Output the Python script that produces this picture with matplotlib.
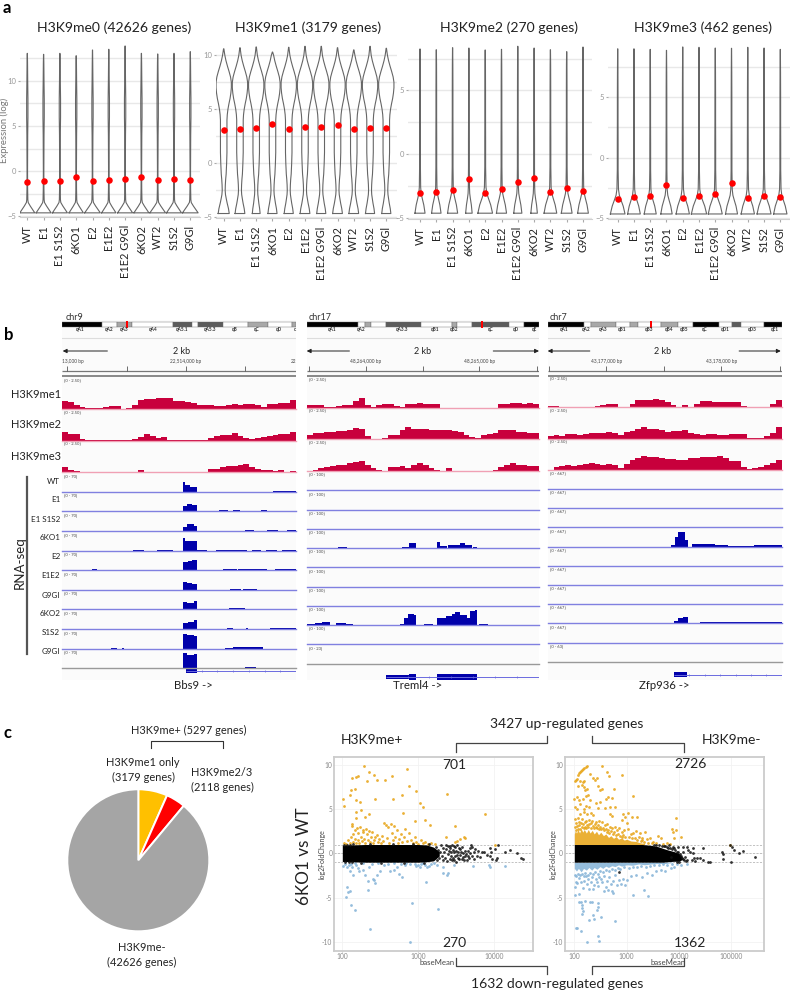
import matplotlib
matplotlib.use("Agg")
import matplotlib.pyplot as plt

plt.rcParams['font.family'] = ['Lato', 'DejaVu Sans']

W, H = 790, 992
SAMPLES = ['WT', 'E1', 'E1 S1S2', '6KO1', 'E2', 'E1E2', 'E1E2 G9Gl', '6KO2', 'WT2', 'S1S2', 'G9Gl']
TITLES = ['H3K9me0 (42626 genes)', 'H3K9me1 (3179 genes)', 'H3K9me2 (270 genes)', 'H3K9me3 (462 genes)']

# panel a: means (red dots), violin tops, half width of the violin foot
ME0_MEAN = [-1.19, -1.11, -1.07, -0.63, -1.11, -0.96, -0.89, -0.63, -1.04, -0.93, -1.0]
ME1_MEAN = [3.06, 3.15, 3.27, 3.61, 3.18, 3.4, 3.4, 3.55, 3.18, 3.3, 3.27]
ME2_MEAN = [-3.09, -3.01, -2.85, -1.99, -3.09, -2.75, -2.2, -1.88, -3.01, -2.7, -2.9]
ME3_MEAN = [-3.42, -3.28, -3.2, -2.23, -3.33, -3.14, -2.98, -2.12, -3.33, -3.2, -3.25]
ME0_TOP = [13.07, 12.96, 13.07, 12.81, 13.44, 13.52, 13.89, 13.07, 13.0, 13.07, 13.26]
ME1_TOP = [10.6, 10.7, 10.77, 10.3, 10.74, 10.83, 10.83, 10.7, 10.5, 10.83, 10.65]
ME2_TOP = [8.25, 8.19, 8.35, 8.32, 8.17, 8.22, 8.46, 8.32, 8.19, 8.04, 8.4]
ME3_TOP = [9.0, 9.0, 8.95, 8.87, 9.15, 9.12, 9.06, 9.04, 9.12, 9.06, 8.95]
ME0_FOOT = [.46, .46, .46, .44, .48, .44, .46, .46, .48, .46, .48]
ME1_FOOT = [.30, .26, .20, .24, .24, .26, .24, .26, .26, .24, .24]
ME2_FOOT = [.31, .29, .31, .20, .45, .31, .25, .20, .39, .33, .33]
ME3_FOOT = [.45, .39, .37, .35, .41, .47, .43, .37, .41, .43, .41]

# violin outline: y levels, foot taper, body half width
ME0_Y = [-4.65, -4.3, -3.9, -3.5, -3.2, -2, 0, 2, 4, 6, 8, 10, 12, 13]
ME0_TAPER = [1, .72, .4, .12, .03, 0, 0, 0, 0, 0, 0, 0, 0, 0]
ME0_BODY = [0, 0, 0, 0, .02, .02, .015, .02, .025, .04, .04, .025, .015, .005]
ME1_Y = [-4.65, -4.2, -3.7, -3.3, -2.9, -2.5, -2, -1.5, -1, 0, 1, 2, 3, 4, 4.5, 5, 5.5, 6, 6.5, 7, 7.5, 8, 8.5, 9, 9.5, 10, 10.6]
ME1_TAPER = [1, .85, .55, .3, .1, 0, 0, 0, 0, 0, 0, 0, 0, 0, 0, 0, 0, 0, 0, 0, 0, 0, 0, 0, 0, 0, 0]
ME1_BODY = [.04, .04, .05, .07, .08, .09, .1, .12, .15, .18, .2, .2, .2, .2, .22, .26, .32, .39, .44, .47, .47, .42, .33, .23, .14, .07, .01]
ME2_Y = [-4.65, -4, -3.5, -3.1, -2.6, -1, 1, 3, 5, 7, 8.2]
ME2_TAPER = [1, .75, .45, .2, .05, 0, 0, 0, 0, 0, 0]
ME2_BODY = [0, 0, 0, .01, .025, .025, .025, .02, .02, .015, .005]

# panel b: H3K9me tracks, one value per window bin
BBS9_ME1 = [8, 7, 4, 2, 1, 1, 1, 2, 3, 3.5, .5, 1, 4, 9, 10, 10.5, 11, 11.5, 11, 8.5, 8, 7.5, 6.5, 4, 4, 4, 3.5, 3.5, 4, 5.5, 4.5, 5.5, 5, 4, 2.5, 5.5, 5.5, 6, 6.5, 9]
BBS9_ME2 = [8.5, 7, 6.5, 1.5, 1, .3, .3, .3, 1, .3, .5, .3, 2, 4, 6.5, 5, 3, 3.5, 1, .3, .3, .3, .3, .5, .5, 3, 4.5, 5.5, 6, 7.5, 5, 3, 1.5, 2.5, 3.5, 4.5, 6, 6.5, 6.5, 9]
BBS9_ME3 = [5.5, 2, 1, .3, .3, .3, .3, .3, .3, .3, .3, .3, .3, 2, .3, .3, .3, .3, .3, .3, .3, .3, .3, .3, .3, 3, 3.5, 5, 6.5, 6, 7, 8, 5, 3, 2, 2.5, 1.5, 2, .3, 1.5]
TREML4_ME1 = [3.5, 3.5, 3, 1.5, 1, 2.5, 3, 3, 7.5, 10, 3, 1.5, 3, 4, 4.5, 2.5, 1, 4, 4.5, 5, 4.5, 4.5, 4, .3, .3, .3, .3, .3, .3, .3, .3, .3, .3, 4, 4, 5, 5, 4, 5.5, 4]
TREML4_ME2 = [4, 6, 6.5, 7, 7.5, 8, 8.5, 9, 11, 10.5, 3, .5, .5, 1, 4, 4, 9, 12, 10.5, 10.5, 10, 9, 9, 9, 9, 8, 7, 4, 2, 1.5, 4, 5, 6, 9.5, 9, 9, 7, 7, 6, 6]
TREML4_ME3 = [.5, 1.5, 3, 4, 5, 6, 6.5, 8, 9, 10, 6, 3, 1.5, .5, 4, 4, 5, 3, 6, 8, 6, 3.5, 1, .3, 3, .3, .3, .3, .3, .3, .3, .3, 1, 4, 6, 8, 6, 6, 5, 5]
ZFP936_ME1 = [1.5, 1.5, .5, .3, .3, .3, .3, .3, 1, 2, 3, 3, .3, .3, 3, 7, 7.5, 7.5, 8, 7.5, 5, 2, .3, 2, .5, 3, 6, 6, 5, 5.5, 5.5, 5, 5, 1, .3, .3, .3, .3, 3, 7]
ZFP936_ME2 = [2.5, 3.5, 3, 5, 5, 4, 5, 6, 6, 6, 7, 6, 4, 6.5, 8, 10, 12, 10, 10, 9, 7, 8, 8, 9, 6, 5, 4, 5, 5, 4, 4, 5, 5, 5, .5, .5, .5, 3, 6, 12]
ZFP936_ME3 = [.5, 3, 4, 5.5, 4, 5, 6, 7, 6, 5.5, 6, 5.5, 2.5, 6, 10, 12, 14, 13, 13, 12, 11, 11, 10, 10, 12, 12, 13, 13, 13, 14, 12, 9, 9, 3, 1.5, 2, 3, 5, 7, 10]

# panel b: RNA-seq coverage as (start %, end %, height) intervals
BBS9_RNA = [
    [(51.6, 52.6, 10), (52.6, 54.8, 7.5), (54.8, 57.5, 5.5), (46.6, 48.7, .7), (83, 84, .7), (90, 100, 1)],
    [(51.6, 53.4, 5), (53.4, 55.5, 7), (55.5, 57.5, 6), (67, 71, 1), (73, 76, 1), (85, 87.5, 1)],
    [(51.6, 53.4, 4.5), (53.4, 56.2, 7), (56.2, 57.5, 5.5), (78, 82, 1), (87.5, 92.5, 1), (96, 100, 1)],
    [(51.6, 52.6, 13), (52.6, 54.8, 10), (54.8, 57.5, 10), (30.5, 35, 1), (40.5, 47.5, 1), (57.5, 62, 1), (66, 79, 1.2), (81, 85, 1), (87, 92, .8), (94, 100, 1.2)],
    [(51.6, 54, 8), (54, 55.5, 9), (55.5, 57.5, 10), (13, 15, 1), (69, 75, 1.5), (75, 87.5, 1), (91, 100, 1.5)],
    [(51.6, 53.4, 8), (53.4, 55.5, 7), (55.5, 57.5, 6), (72, 76.5, .8), (77.5, 83.5, .8)],
    [(51.6, 53.4, 7), (53.4, 56.2, 6.5), (56.2, 57.5, 8), (58.5, 60, .7), (71.5, 78, 1.2), (79, 87.5, .7)],
    [(51.6, 54, 6), (54, 56.2, 7.5), (56.2, 57.5, 9), (70.5, 73, 1), (78.5, 79.5, .7), (89, 100, 1)],
    [(51.6, 53.4, 15), (53.4, 56.2, 14), (56.2, 57.5, 13), (21, 23.5, .7), (25.5, 26.5, .7), (69.5, 73, 1), (73, 86, 1.5)],
    [(51.6, 53.4, 15), (53.4, 56.2, 13), (56.2, 57.5, 14), (78, 83, .7)],
]
TREML4_RNA = [[], [], [],
    [(13.6, 17.2, 1.5), (41, 44, 1.5), (44, 47, 5.5), (56, 57.5, 6), (57.5, 60.5, 2), (61, 64.5, 3.5), (64.5, 66, 3), (66, 68, 5), (68, 71, 3), (71.5, 73.5, 1)],
    [], [], [],
    [(0, 3.5, 1), (3.5, 6.5, 2), (6.5, 10, 3), (12.5, 17, 2), (17, 20, 1), (40, 42, 1.5), (42, 43.5, 7), (43.5, 46, 11), (46, 47, 10), (50.5, 54.5, 1), (56, 60, 7.5), (60, 62.5, 9), (62.5, 64, 11), (64, 66, 13), (66, 69, 10), (69, 70.5, 7), (70.5, 72.5, 14), (72.5, 73.5, 15), (74, 78, 1.5)],
    [], [],
]
ZFP936_RNA = [[], [], [],
    [(52.7, 54.4, 2), (54.4, 55.8, 10), (55.8, 58.7, 15), (58.7, 59.8, 7), (61.5, 71.5, 3), (71.5, 77, 1.5), (77, 88, 1), (88, 100, 2)],
    [], [],
    [(97.5, 100, .7)],
    [(54, 55.8, 2), (55.8, 58, 5), (58, 60, 6.5), (65, 69.5, 1.5), (69.5, 76.5, 1), (76.5, 100, 1)],
    [], [],
]
RNA_LABELS = ['WT', 'E1', 'E1 S1S2', '6KO1', 'E2', 'E1E2', 'G9Gl', '6KO2', 'S1S2', 'G9Gl']

# ideogram bands (end %, shade) and band names
BBS9_BANDS = [(17.2, 'k'), (23.6, 'w'), (29.8, 'g'), (47.6, 'w'), (55.7, 'd'), (58.1, 'w'), (69, 'd'), (79.6, 'w'), (87.9, 'g'), (98.1, 'w'), (100, 'g')]
TREML4_BANDS = [(22, 'k'), (25.1, 'w'), (27.5, 'g'), (34, 'w'), (49.1, 'd'), (62.6, 'w'), (64.7, 'g'), (71.3, 'w'), (87.1, 'd'), (93.6, 'w'), (100, 'k')]
ZFP936_BANDS = [(15.5, 'k'), (18.4, 'w'), (29, 'g'), (35.2, 'w'), (38.4, 'g'), (48.5, 'w'), (55.5, 'g'), (62, 'w'), (73.2, 'k'), (78.7, 'w'), (82.6, 'd'), (92.5, 'w'), (100, 'k')]
BBS9_NAMES = [(7.6, 'qA1'), (20.2, 'qA2'), (26.6, 'qA3'), (38.8, 'qA4'), (51.3, 'qA5.1'), (63.5, 'qA5.3'), (74, 'qB'), (83, 'qC'), (92.6, 'qD'), (99.6, 'c')]
TREML4_NAMES = [(10.8, 'qA1'), (23.4, 'qA2'), (41.2, 'qA3.3'), (55.2, 'qB1'), (63.3, 'qB2'), (79, 'qC'), (90, 'qD'), (98, 'qE')]
ZFP936_NAMES = [(7.1, 'qA1'), (16.6, 'qA2'), (23.5, 'qA3'), (31.6, 'qB1'), (43.2, 'qB3'), (51.7, 'qB4'), (58.5, 'qB5'), (67.1, 'qC'), (75.7, 'qD1'), (87.3, 'qD3'), (97, 'qE1')]

# panel c: pie
PIE_VALUES = [3179, 2118, 42626]
PIE_COLORS = ['#ffc000', '#ff0000', '#a5a5a5']

# panel c: MA plot H3K9me+ (baseMean, log2FoldChange)
PLUS_UP = [(193, 9.9), (222, 9.2), (259, 8.9), (214, 8.2), (284, 8.3), (133, 8.5), (150, 8.6), (161, 8.75), (365, 8.35), (451, 8.7), (717, 9.6), (765, 7.6), (945, 7.1), (131, 7.2), (148, 7.3), (126, 6.6), (102, 6.1), (105, 5.4), (152, 6.0), (171, 5.8), (270, 6.1), (470, 6.2), (606, 6.6), (1060, 5.7), (1170, 5.2), (2420, 6.7), (640, 4.6), (7650, 4.4), (150, 4.7), (177, 4.95), (224, 4.5), (199, 4.1), (150, 4.05), (910, 3.7), (1230, 3.8), (1430, 3.2), (3100, 3.05), (133, 3.3),
           (105, 1.2), (112, 1.1), (118, 1.5), (125, 1.2), (130, 1.8), (136, 3.1), (138, 2.2), (140, 1.3), (145, 2.6), (148, 1.6), (150, 1.2), (155, 2.9), (160, 2.3), (163, 1.5), (168, 1.2), (172, 3.0), (175, 1.9), (180, 1.4), (185, 2.6), (190, 2.4), (195, 1.6), (200, 1.2), (205, 2.8), (212, 2.2), (220, 1.5), (228, 2.5), (235, 1.3), (240, 1.9), (248, 2.4), (255, 1.2), (262, 1.5), (270, 1.9), (285, 2.1), (295, 1.3), (305, 1.6), (320, 1.2), (330, 2.0), (345, 1.4), (360, 3.4), (375, 3.2), (385, 1.7), (400, 3.0), (415, 1.2), (435, 3.3), (450, 2.3), (465, 1.5), (480, 3.1), (500, 1.9), (520, 2.6), (540, 1.2), (565, 1.6), (590, 2.2), (615, 1.3), (650, 1.9), (680, 2.8), (710, 1.4), (750, 2.3), (800, 1.5), (850, 1.2), (900, 1.8), (950, 1.3), (1000, 1.1), (1080, 1.5), (1150, 1.2), (1250, 1.3), (1350, 1.1), (1500, 1.2), (1650, 1.1), (2300, 1.9), (3050, 1.3), (3300, 1.4), (3600, 1.6), (4000, 1.8), (4200, 1.7), (10200, 1.0)]
PLUS_DOWN = [(103, -1.4), (108, -1.2), (115, -1.6), (122, -1.3), (125, -2.0), (130, -1.2), (135, -1.5), (140, -2.4), (150, -1.3), (160, -1.7), (165, -2.0), (117, -3.8), (120, -4.4), (128, -4.3), (113, -4.95), (131, -5.9), (148, -6.4), (235, -8.6), (790, -10), (830, -5.6), (1830, -6.3), (218, -4.2), (1270, -3.3), (265, -3.0), (290, -2.5), (310, -2.0), (360, -1.3), (420, -2.0), (480, -1.9), (560, -2.3), (270, -3.4), (255, -2.9), (185, -1.9), (200, -2.5), (215, -3.1), (225, -1.5), (400, -1.2), (520, -1.5), (620, -2.7), (680, -1.3), (780, -1.2), (900, -1.2), (1000, -1.3), (1100, -1.2), (1300, -1.5), (1500, -1.2), (1800, -1.3), (2100, -1.5), (2400, -2.4), (2500, -2.2), (2100, -2.2), (3000, -1.3), (5300, -1.4), (8800, -1.5), (8600, -1.3), (14200, -1.4),
             (950, -1.4), (1050, -1.5), (1150, -1.1), (1220, -1.3), (1400, -1.4), (1600, -1.1), (700, -1.1), (600, -1.2), (480, -1.1), (300, -1.1), (250, -1.2), (190, -1.1), (145, -1.1)]
PLUS_NS = [(2000, .9), (2300, 1.0), (2500, .85), (2800, .9), (3100, .7), (3300, .95), (3600, .5), (3900, -.4), (4200, .3), (4400, -.7), (4800, .6), (5000, .9), (5200, .75), (5400, .2), (5600, .5), (5900, -.3), (6200, .3), (6500, -.4), (7000, .1), (7500, .2), (8200, -.2), (8800, .55), (8900, -.3), (9100, .2), (9300, -.6), (10500, .5), (11000, -.5), (10800, -.8), (11500, 1.0), (14000, .2), (16500, .4), (20000, .05), (22500, -.5), (24000, -.65), (2400, -.9), (2800, -.8), (3200, -.95), (3500, -.6), (4000, -.8), (4500, -.3), (3000, .1),
           (1700, .7), (1750, -.8), (1850, .4), (1900, -.55), (1950, .15), (2050, -.3), (2100, .6), (2150, -.75), (2200, .2), (2250, -.5), (2350, .45), (2450, -.1), (2550, .3), (2600, -.6), (2650, .65), (2700, -.25), (2750, .1), (2850, -.5), (2900, .4), (2950, -.7), (3050, -.3), (3150, .3), (3250, -.15), (3350, .15), (3400, -.55), (3450, .55), (3550, -.2), (3700, .2), (3800, -.6), (3950, .05), (4100, -.3), (4300, -.1), (4600, .25), (4700, -.55), (4900, .05), (5100, -.35), (5500, -.6), (3750, .75), (3000, .85), (2600, .8),
           (105, 1.0), (122, -1.0), (140, 1.05), (175, -1.05), (230, 1.05), (320, -1.05), (470, 1.05), (650, -1.08), (850, 1.05), (1200, -1.05), (1400, 1.05), (110, -.98), (115, .98), (128, .97), (135, -1.0)]
PLUS_BAND_X = [100, 130, 200, 500, 1000, 1300, 1600, 1900]
PLUS_BAND_HI = [.92, .95, 1, 1, 1, .95, .7, .2]
PLUS_BAND_LO = [-.92, -.95, -1, -1, -1, -.95, -.85, -.3]

# panel c: MA plot H3K9me-
MINUS_UP = [(103, 8.2), (110, 8.3), (115, 8.4), (120, 8.9), (125, 9.1), (130, 9.2), (135, 9.3), (140, 9.4), (148, 9.5), (155, 9.7), (165, 9.8), (172, 9.9), (200, 9.0), (333, 9.9), (428, 9.2), (455, 8.7), (830, 8.85), (231, 8.5), (250, 8.3), (267, 8.5), (280, 7.6), (309, 7.2), (333, 7.25), (130, 8.2), (145, 8.1), (155, 8.2), (120, 7.6), (150, 7.5), (142, 7.7), (160, 7.2), (172, 7.3), (580, 7.3), (515, 6.3), (445, 6.35), (400, 6.2), (1340, 6.5), (100, 6.1), (115, 6.4), (125, 6.0), (145, 6.2), (165, 6.5), (185, 6.6), (200, 6.0), (310, 5.8), (260, 5.7), (285, 5.1), (600, 5.3), (480, 5.2), (385, 5.1), (190, 5.3), (165, 5.4), (150, 5.0), (130, 5.6), (115, 5.0), (105, 5.3), (1070, 4.6), (1240, 4.15), (860, 4.5), (925, 4.1), (800, 3.8), (517, 4.2), (480, 4.5), (8600, 4.05), (1560, 4.1), (1000, 3.4), (210, 4.6), (230, 4.3), (175, 4.5), (150, 4.7), (130, 4.4), (118, 4.0), (105, 3.9), (8800, 2.6), (7800, 2.4), (7200, 2.8), (4000, 2.0), (4500, 1.7), (8000, 1.75), (10900, 1.9), (2250, 2.4), (1790, 2.3), (1950, 1.7), (2800, 1.7), (94000, 1.0),
            (110, 3.4), (125, 3.6), (140, 3.9), (165, 3.7), (190, 3.8), (220, 3.7), (260, 3.6), (300, 3.7), (340, 3.5), (380, 3.2), (430, 3.3), (480, 3.0), (520, 2.9), (590, 3.0), (650, 2.6), (720, 2.9), (800, 2.4), (900, 2.6), (1050, 2.8), (1200, 2.2), (1350, 2.3), (1500, 2.5), (1700, 1.8), (2000, 1.5), (2400, 1.6), (3200, 1.3), (3600, 1.2), (5000, 1.1), (5800, 1.2), (6800, 1.1),
            (102, 3.0), (106, 2.6), (112, 3.1), (118, 2.7), (122, 3.2), (128, 2.8), (133, 3.4), (138, 3.0), (145, 3.3), (150, 2.9), (158, 3.5), (162, 3.0), (170, 2.9), (178, 3.2), (185, 3.0), (195, 3.3), (205, 2.9), (212, 3.4), (225, 3.1), (235, 2.9), (245, 3.3), (255, 3.0), (270, 2.9), (280, 3.2), (295, 2.8), (315, 3.0), (330, 2.7), (350, 2.9), (365, 2.6), (395, 2.7), (415, 2.4), (445, 2.6), (465, 2.3), (500, 2.5), (540, 2.2), (570, 2.4), (620, 2.1), (680, 2.2), (750, 2.0), (820, 1.9), (870, 2.1), (950, 1.8), (1100, 1.9), (1250, 1.7), (1450, 1.7), (1600, 1.5), (1850, 1.4), (2100, 1.25), (2600, 1.2), (3000, 1.15)]
MINUS_DOWN = [(103, -4.75), (110, -3.2), (125, -4.6), (132, -5.55), (125, -5.55), (143, -5.85), (138, -6.2), (148, -6.5), (143, -6.85), (193, -7.5), (224, -7.0), (237, -7.4), (318, -7.15), (606, -7.7), (106, -8.4), (113, -8.5), (132, -8.75), (288, -9.3), (172, -10), (296, -9.9), (220, -5.5), (200, -5.5), (160, -5.4), (288, -5.65), (288, -6.05), (267, -6.4), (368, -4.3), (445, -4.2), (515, -4.3), (556, -4.5), (1340, -4.75), (2100, -4.15), (2600, -4.8),
              (105, -3.8), (115, -3.4), (125, -2.8), (135, -3.3), (145, -3.9), (155, -3.1), (165, -2.6), (175, -3.5), (185, -2.9), (195, -4.0), (205, -3.3), (215, -2.7), (228, -4.0), (240, -3.6), (255, -2.9), (270, -3.2), (285, -3.7), (300, -2.7), (320, -2.9), (345, -3.2), (370, -2.6), (400, -3.8), (430, -3.1), (470, -2.7), (510, -3.5), (540, -3.1), (600, -2.5), (650, -3.6), (700, -3.0), (780, -3.5), (860, -2.9), (950, -3.6), (1030, -3.0), (1200, -2.6), (1500, -2.4), (2000, -2.7), (2500, -2.2), (3100, -2.5), (3700, -2.0), (4500, -1.9), (5500, -2.0), (7000, -1.7), (8000, -1.6), (11000, -1.3), (14000, -1.2),
              (102, -2.4), (108, -2.6), (118, -2.3), (130, -2.5), (140, -2.3), (150, -2.6), (160, -2.2), (180, -2.4), (200, -2.2), (225, -2.3), (250, -2.1), (280, -2.3), (310, -2.0), (350, -2.1), (400, -1.9), (460, -2.0), (520, -1.8), (590, -1.9), (670, -1.7), (760, -1.8), (900, -1.6), (1100, -1.7), (1300, -1.5), (1600, -1.6), (1900, -1.4), (2300, -1.5), (2800, -1.4), (3400, -1.3), (4200, -1.3), (5000, -1.25), (6000, -1.3), (7500, -1.2), (9000, -1.15)]
MINUS_NS = [(720, -2.15), (7800, .7), (9700, .75), (8000, .55), (18300, .65), (28300, .65), (18800, 0), (15000, .4), (19000, -.55), (21700, -.5), (25000, -.55), (29000, -.8), (18000, -.8), (20100, -.9), (36000, -1), (39000, -1), (66000, .2), (68000, -.1), (68000, -.65), (98000, -1), (94000, .95), (104000, .7), (114000, .4), (143000, 0), (166000, .25), (285000, -.4), (12000, .2), (13000, -.4), (11300, -.55), (14000, .75), (16000, .2), (12000, .75), (6500, .9), (5500, .85), (7000, -.4),
            (3300, 1.0), (3700, .95), (4200, .9), (4700, .85), (5200, .8), (5800, .75), (6300, .65), (6800, .55), (7300, .45), (8500, .35), (9000, .2), (9500, .1), (10500, -.1), (11000, -.3), (11800, -.6), (12500, -.75), (13500, -.9), (14500, -.7), (10000, -.95), (9000, -1.0)]
MINUS_BAND_X = [100, 150, 300, 1000, 2000, 3000, 4000, 5000, 6000, 8000, 10000, 11500]
MINUS_BAND_HI = [1, 1, 1, 1, 1, .9, .75, .55, .4, .2, 0, -.4]
MINUS_BAND_LO = [-1, -1, -1, -1, -1, -1, -1, -1, -.95, -.9, -.9, -.7]
MINUS_UP_X = [100, 105, 110, 118, 126, 135, 145, 155, 170, 185, 200, 220, 240, 265, 290, 320, 360, 400, 450, 500, 560, 630, 700, 800, 900, 1000, 1200, 1500, 1800, 2200]
MINUS_UP_HI = [2.2, 2.6, 2.3, 2.7, 2.3, 2.8, 2.4, 2.7, 2.3, 2.7, 2.3, 2.6, 2.2, 2.5, 2.1, 2.4, 2.0, 2.2, 1.8, 2.0, 1.7, 1.9, 1.6, 1.75, 1.5, 1.6, 1.4, 1.35, 1.2, 1.1]
MINUS_DN_X = [100, 110, 120, 135, 150, 170, 190, 215, 240, 270, 310, 350, 400, 450, 520, 600, 700, 800, 1000, 1300, 1700, 2200, 3000, 4000, 5500, 7500]
MINUS_DN_LO = [-1.7, -2.0, -1.7, -2.1, -1.7, -1.9, -1.6, -1.9, -1.6, -1.8, -1.5, -1.7, -1.45, -1.6, -1.4, -1.5, -1.3, -1.45, -1.3, -1.35, -1.2, -1.3, -1.2, -1.15, -1.15, -1.05]

fig = plt.figure(figsize=(W / 100, H / 100), dpi=100)


def px_axes(x0, y0, x1, y1, **kw):
    # axes placed in image pixels, y counted from the top
    return fig.add_axes([x0 / W, 1 - y1 / H, (x1 - x0) / W, (y1 - y0) / H], **kw)


# overlay for free text and brackets
ov = px_axes(0, 0, W, H, zorder=20)
ov.set_xlim(0, W)
ov.set_ylim(H, 0)
ov.axis('off')


def label(x, y, s, size=10, ha='center', **kw):
    ov.text(x, y, s, fontsize=size, ha=ha, va='center', color=kw.pop('color', '#222222'), **kw)


label(7, 8, 'a', 12, fontweight='bold', color='black')
label(9, 335, 'b', 12, fontweight='bold', color='black')
label(8, 733, 'c', 12, fontweight='bold', color='black')

# ---- a: violins
panels = [
    (20, 200, 27.3, 16.3, 45, 216.7, 9.0, ME0_MEAN, ME0_TOP, ME0_FOOT, ME0_Y, ME0_TAPER, ME0_BODY, [-5, 0, 5, 10], [-2.5, 2.5, 7.5, 12.5], 114, 28),
    (216, 397, 223.7, 16.26, 45, 218, 10.8, ME1_MEAN, ME1_TOP, ME1_FOOT, ME1_Y, ME1_TAPER, ME1_BODY, [-5, 0, 5, 10], [-2.5, 2.5, 7.5], 308, 28),
    (408, 592, 420, 16.3, 45, 218.5, 12.73, ME2_MEAN, ME2_TOP, ME2_FOOT, ME2_Y, ME2_TAPER, ME2_BODY, [-5, 0, 5], [-2.5, 2.5, 7.5], 509, 28),
    (608, 790, 617.7, 16.26, 45, 218.5, 12.1, ME3_MEAN, ME3_TOP, ME3_FOOT, ME2_Y, ME2_TAPER, ME2_BODY, [-5, 0, 5], [-2.5, 2.5, 7.5], 703, 28),
]
zero_px = [171, 163.3, 154, 157.7]
for i, p in enumerate(panels):
    x0, x1, first, step, top, bot, unit, mean, tops, foot, ys, taper, body, ticks, minor, tx, ty = p
    ax = px_axes(x0, top, x1, bot, facecolor='none')
    ax.set_xlim((x0 - first) / step, (x1 - first) / step)
    for j in range(11):
        hw = [t * foot[j] + b for t, b in zip(taper, body)]
        yy = ys[:-1] + [tops[j]]
        xs = [j - h for h in hw] + [j + h for h in hw[::-1]] + [j - hw[0]]
        ax.plot(xs, yy + yy[::-1] + [yy[0]], color='#555555', lw=0.8, alpha=0.9, zorder=2)
    ax.scatter(range(11), mean, s=22, color='#ff0000', zorder=3, linewidths=0)
    ax.set_yticks(ticks)
    ax.set_yticks(minor, minor=True)
    ax.set_ylim((zero_px[i] - bot) / unit, (zero_px[i] - top) / unit)
    ax.grid(True, which='both', axis='y', color='#e8e8e8', lw=1, zorder=0)
    ax.set_xticks(range(11))
    ax.set_xticklabels(SAMPLES, rotation=90, fontsize=7.9, color='#222222')
    ax.tick_params(axis='x', length=2, color='#aaaaaa', pad=4)
    ax.tick_params(axis='y', which='major', length=1.5, color='#aaaaaa', labelsize=5.5, labelcolor='#999999', pad=1)
    ax.tick_params(axis='y', which='minor', length=0)
    for s in ['top', 'left', 'right']:
        ax.spines[s].set_visible(False)
    ax.spines['bottom'].set_color('#d0d0d0')
    label(tx, ty, TITLES[i], 10.1)
label(4, 130, 'Expression (log)', 6.8, rotation=90, color='#777777')

# ---- b: IGV browser panels
SHADES = {'k': 'black', 'w': 'white', 'g': '#a8a8a8', 'd': '#5c5c5c'}
columns = [
    dict(x0=62, x1=296, chrom='chr9', bands=BBS9_BANDS, names=BBS9_NAMES, red=27.6, rng='[0 - 70]', last='[0 - 70]',
         me=[BBS9_ME1, BBS9_ME2, BBS9_ME3], me_base=[409, 440.7, 472.3], rna=BBS9_RNA,
         rna_base=[492.3, 511.3, 531, 550.7, 570, 590, 609.3, 629, 648.7, 667.7],
         ticks=[2.3, 27.6, 52.8, 78], tlab=[(0, '13,000 bp'), (52.8, '22,514,000 bp'), (99, '22')], mid=50.9,
         arrows=(0.3, 19.4, 83.3, 100.8), gene='Bbs9 ->', gx=193, gene_y=671, exon_h=4, exons=[(53, 57.5, 1)], gstart=53),
    dict(x0=306.7, x1=539, chrom='chr17', bands=TREML4_BANDS, names=TREML4_NAMES, red=75.3, rng='[0 - 100]', last='[0 - 23]',
         me=[TREML4_ME1, TREML4_ME2, TREML4_ME3], me_base=[408.3, 439.3, 471], rna=TREML4_RNA,
         rna_base=[490.3, 509.7, 529, 548.3, 567.3, 586.7, 606, 625.3, 644.3, 663.7],
         ticks=[1.1, 25.7, 50.1, 74.3, 99], tlab=[(25.4, '48,264,000 bp'), (74.2, '48,265,000 bp')], mid=49.8,
         arrows=(0, 18.4, 80.3, 100), gene='Treml4 ->', gx=418, gene_y=677, exon_h=6, exons=[(34.1, 44.2, .6), (44.2, 47, 1), (56.2, 73.2, 1)], gstart=34),
    dict(x0=547.7, x1=781.7, chrom='chr7', bands=ZFP936_BANDS, names=ZFP936_NAMES, red=44.2, rng='[0 - 667]', last='[0 - 63]',
         me=[ZFP936_ME1, ZFP936_ME2, ZFP936_ME3], me_base=[407.3, 438.7, 470], rna=ZFP936_RNA,
         rna_base=[489.3, 508.3, 527.3, 546.7, 566, 585, 604.3, 623.3, 642.7, 662],
         ticks=[.4, 25.1, 49.6, 74.2, 99.1], tlab=[(25, '43,177,000 bp'), (74.2, '43,178,000 bp')], mid=49,
         arrows=(0, 18, 81.8, 99.6), gene='Zfp936 ->', gx=664, gene_y=675, exon_h=5, exons=[(54, 59.4, 1)], gstart=54),
]
for c in columns:
    base = px_axes(c['x0'], 320, c['x1'], 680, facecolor='#fbfbfb')
    base.set_xlim(0, 100)
    base.set_ylim(680, 320)
    for s in base.spines.values():
        s.set_visible(False)
    base.set_xticks([])
    base.set_yticks([])
    # ideogram
    start = 0
    for end, shade in c['bands']:
        base.barh(324.5, end - start, left=start, height=5.2, color=SHADES[shade], edgecolor='#666666', lw=0.3)
        start = end
    base.barh(324.5, 0.9, left=c['red'] - 0.45, height=6.5, color='#ff0000')
    for pos, name in c['names']:
        base.text(pos, 329.5, name, fontsize=3.4, ha='center', va='center', fontweight='bold', color='#333333')
    base.axhline(338, color='#dddddd', lw=0.8)
    # ruler
    a, b, d, e = c['arrows']
    for start_x, end_x in [(b, a), (d, e)]:
        base.annotate('', xy=(end_x, 351), xytext=(start_x, 351),
                      arrowprops=dict(arrowstyle='-|>', color='#222222', lw=0.7, shrinkA=0, shrinkB=0, mutation_scale=6))
    base.text(c['mid'], 351.5, '2 kb', fontsize=6.5, ha='center', va='center', color='#222222')
    for pos, s in c['tlab']:
        base.text(pos, 361.7, s, fontsize=3.4, ha='left' if pos == 0 else 'center', va='center', color='#444444')
    base.hlines(370.7, 0, 100, color='#777777', lw=0.9)
    base.vlines(c['ticks'], 366, 370.7, color='#555555', lw=0.6)
    base.hlines(376.3, 0, 100, color='#888888', lw=1.4)
    # me tracks
    for vals, bl in zip(c['me'], c['me_base']):
        ax = px_axes(c['x0'], bl - 20, c['x1'], bl, facecolor='none', zorder=3)
        ax.set_xlim(0, 40)
        ax.set_ylim(0, 20)
        ax.bar(range(40), vals, width=1, align='edge', color='#c8003c', linewidth=0)
        ax.axhline(0, color='#f0a0b4', lw=1, clip_on=False)
        ax.axis('off')
        base.text(1, bl - 28.5, '[0 - 2.50]', fontsize=3, va='center', color='#444444')
    # RNA tracks
    for k, (segs, bl) in enumerate(zip(c['rna'], c['rna_base'])):
        ax = px_axes(c['x0'], bl - 16, c['x1'], bl, facecolor='none', zorder=3)
        ax.set_xlim(0, 100)
        ax.set_ylim(0, 16)
        for s0, s1, h in segs:
            ax.bar(s0, h, width=s1 - s0, align='edge', color='#0000aa', linewidth=0)
        ax.axhline(0, color='#999999' if k == 9 else '#8080e0', lw=1, clip_on=False)
        ax.axis('off')
        base.text(1, bl - 15.5, c['last'] if k == 9 else c['rng'], fontsize=3, va='center', color='#444444')
    # gene track
    base.hlines(c['gene_y'], c['gstart'], 100, color='#6a6adf', lw=0.7)
    for s0, s1, frac in c['exons']:
        base.barh(c['gene_y'], s1 - s0, left=s0, height=c['exon_h'] * frac, color='#0000aa')
    base.scatter([c['gstart'] + (100 - c['gstart']) * n / 7 for n in range(1, 7)], [c['gene_y']] * 6,
                 marker='|', s=4, color='#6a6adf', linewidths=0.5)
    label(c['gx'], 685.7, c['gene'], 8.2)
    ov.text((c['x0'] + 4) if c['chrom'] == 'chr9' else (c['x0'] + 2), 317, c['chrom'], fontsize=6.5, va='center', color='#333333')

for y, s in [(394.7, 'H3K9me1'), (424.7, 'H3K9me2'), (456, 'H3K9me3')]:
    label(61, y, s, 8, ha='right')
for y, s in zip([481, 500, 519.3, 537.7, 556.7, 576, 595, 613.7, 632.7, 651.7], RNA_LABELS):
    label(60, y, s, 5.8, ha='right')
label(20, 562.7, 'RNA-seq', 9.5, rotation=90)
ov.plot([26.7, 26.7], [476.7, 654], color='#555555', lw=1.6)

# ---- c: pie
pie_ax = px_axes(138.3 - 72, 860.3 - 72, 138.3 + 72, 860.3 + 72)
pie_ax.pie(PIE_VALUES, colors=PIE_COLORS, startangle=90, counterclock=False, radius=71 / 72,
           wedgeprops=dict(edgecolor='white', linewidth=1.4))
pie_ax.set_xlim(-1, 1)
pie_ax.set_ylim(-1, 1)
label(189, 730.7, 'H3K9me+ (5297 genes)', 7.9)
ov.plot([150.7, 150.7, 223.3, 223.3], [748.3, 740.7, 740.7, 748.3], color='#333333', lw=0.8)
label(143, 762, 'H3K9me1 only', 7.9)
label(143, 777, '(3179 genes)', 7.9)
label(222, 772.3, 'H3K9me2/3', 7.9)
label(222, 787.3, '(2118 genes)', 7.9)
label(141.7, 947.7, 'H3K9me-', 7.9)
label(141.7, 962.7, '(42626 genes)', 7.9)


# ---- c: MA plots
def ma_plot(box, xlim, xticks, up, down, ns, band, up_fill=None, dn_fill=None):
    ax = px_axes(*box, facecolor='white')
    ax.set_xscale('log')
    ax.set_xlim(*xlim)
    ax.set_ylim(-11.02, 10.94)
    ax.grid(True, color='#f2f2f2', lw=0.6)
    ax.set_axisbelow(True)
    for y in [-1, 0, 1]:
        ax.axhline(y, color='#aaaaaa', lw=0.5, ls=(0, (3, 2)), zorder=0.9)
    if up_fill:
        ax.fill_between(up_fill[0], 1, up_fill[1], color='#e8a820', alpha=0.9, lw=0, zorder=1)
    if dn_fill:
        ax.fill_between(dn_fill[0], -1, dn_fill[1], color='#8ab6d9', alpha=0.9, lw=0, zorder=1)
    ax.scatter(*zip(*up), s=4, color='#e8a820', alpha=0.9, linewidths=0, zorder=1)
    ax.scatter(*zip(*down), s=4, color='#8ab6d9', alpha=0.9, linewidths=0, zorder=1)
    ax.fill_between(band[0], band[2], band[1], color='black', lw=0, zorder=2)
    ax.scatter(*zip(*ns), s=4, color='#111111', alpha=0.85, linewidths=0, zorder=2)
    ax.set_yticks([-10, -5, 0, 5, 10])
    ax.set_yticklabels(['-10', '-5', '0', '5', '10'])
    ax.set_xticks(xticks)
    ax.set_xticklabels([str(t) for t in xticks])
    ax.minorticks_off()
    ax.tick_params(length=1, color='#bbbbbb', labelsize=4.8, labelcolor='#888888', pad=0.5)
    for s in ax.spines.values():
        s.set_color('#cccccc')
        s.set_linewidth(1.3)
    ax.set_xlabel('baseMean', fontsize=5.6, color='#444444')
    ax.set_ylabel('log2FoldChange', fontsize=5, color='#444444')
    ax.xaxis.set_label_coords(0.516, -0.041)
    ax.yaxis.set_label_coords(-0.045, 0.5)


ma_plot((334.3, 756.7, 533.3, 950.7), (10 ** 1.894, 10 ** 4.52), [100, 1000, 10000],
        PLUS_UP, PLUS_DOWN, PLUS_NS, (PLUS_BAND_X, PLUS_BAND_HI, PLUS_BAND_LO))
ma_plot((565, 756.7, 764.3, 950.7), (10 ** 1.822, 10 ** 5.63), [100, 1000, 10000, 100000],
        MINUS_UP, MINUS_DOWN, MINUS_NS, (MINUS_BAND_X, MINUS_BAND_HI, MINUS_BAND_LO),
        (MINUS_UP_X, MINUS_UP_HI), (MINUS_DN_X, MINUS_DN_LO))

label(371.7, 740, 'H3K9me+', 10)
label(731.7, 740, 'H3K9me-', 10)
label(567, 724, '3427 up-regulated genes', 10)
label(557, 984, '1632 down-regulated genes', 10)
label(304, 855.7, '6KO1 vs WT', 12.3, rotation=90)
label(454, 765, '701', 10)
label(454, 943.3, '270', 10)
label(690, 764, '2726', 10)
label(690, 943.3, '1362', 10)
for xs, ys in [([455.7, 455.7, 547.3, 547.3], [752.3, 743.3, 743.3, 736]),
               ([591.7, 591.7, 683.7, 683.7], [736, 743.3, 743.3, 752.3]),
               ([455.7, 455.7, 547.3, 547.3], [958.3, 966, 966, 974.3]),
               ([591.7, 591.7, 683.7, 683.7], [974.3, 966, 966, 958.3])]:
    ov.plot(xs, ys, color='#444444', lw=0.9)

fig.savefig('out.png', dpi=100)
